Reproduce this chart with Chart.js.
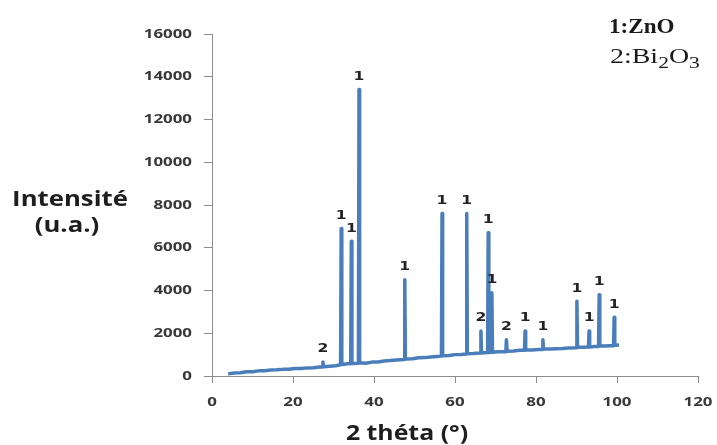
<!DOCTYPE html>
<html>
<head>
<meta charset="utf-8">
<script src="https://cdn.jsdelivr.net/npm/chart.js@4.4.1/dist/chart.umd.min.js"></script>
<style>
  html, body { margin: 0; padding: 0; background: #ffffff; }
  #wrap { width: 717px; height: 445px; position: relative; }
</style>
</head>
<body>
<div id="wrap"><canvas id="xrd" width="717" height="445"></canvas></div>
<script>
// Diffraction pattern: 2θ (degrees) and measured intensity (a.u.)
const theta = [
  4.0, 5.5, 7.0, 8.5, 10.0, 11.5, 13.0, 14.5, 16.0, 17.5, 19.0, 20.5, 22.0, 23.5, 25.0, 26.5,
  27.25, 27.4, 27.55, 29.0, 30.5, 31.75, 31.9, 32.05, 33.5, 34.25, 34.4, 34.55, 36.15, 36.3, 36.45,
  38.0, 39.5, 41.0, 42.5, 44.0, 45.5, 47.45, 47.6, 47.75, 49.5, 51.0, 52.5, 54.0, 55.5, 56.65,
  56.8, 56.95, 58.5, 60.0, 61.5, 62.75, 62.9, 63.05, 64.5, 66.25, 66.4, 66.55, 68.05, 68.2, 68.35,
  68.95, 69.1, 69.25, 70.5, 72.55, 72.7, 72.85, 74.5, 76.0, 77.15, 77.3, 77.45, 79.0, 80.5, 81.55,
  81.7, 81.85, 83.5, 85.0, 86.5, 88.0, 89.95, 90.1, 90.25, 91.5, 92.95, 93.1, 93.25, 94.5, 95.45,
  95.6, 95.75, 97.0, 98.2, 99.15, 99.3, 99.45, 100.5
];
const intensity = [
  100, 140, 150, 200, 200, 240, 250, 280, 290, 310, 320, 350, 350, 380, 390, 420,
  420, 650, 430, 460, 480, 530, 6900, 540, 570, 570, 6300, 590, 600, 13400, 620,
  600, 650, 660, 700, 720, 750, 770, 4500, 790, 810, 850, 860, 890, 910, 930,
  7600, 950, 960, 1000, 1010, 1030, 7600, 1040, 1050, 1080, 2100, 1080, 1100, 6700, 1100,
  1110, 3900, 1110, 1130, 1140, 1700, 1160, 1170, 1200, 1200, 2100, 1220, 1220, 1240, 1240,
  1700, 1260, 1260, 1280, 1290, 1310, 1320, 3500, 1340, 1340, 1360, 2100, 1360, 1380, 1380,
  3800, 1400, 1400, 1420, 1420, 2750, 1440, 1450
];

// Indexed peaks: 1 = ZnO, 2 = Bi2O3
const peakTheta = [27.4, 31.9, 34.4, 36.3, 47.6, 56.8, 62.9, 66.4, 68.2, 69.1, 72.7, 77.3, 81.7, 90.1, 93.1, 95.6, 99.3];
const peakPhase = ['2', '1', '1', '1', '1', '1', '1', '2', '1', '1', '2', '1', '1', '1', '1', '1', '1'];

// Axis ticks
const xTicks = [0, 20, 40, 60, 80, 100, 120];
const yTicks = [0, 2000, 4000, 6000, 8000, 10000, 12000, 14000, 16000];

const points = theta.map((t, i) => ({ x: t, y: intensity[i] }));

const axisGray = '#8c8c8c';

// text drawn with a horizontal stretch factor sx
function wideText(ctx, text, x, y, sx, align) {
  const w = ctx.measureText(text).width * sx;
  let left = x;
  if (align === 'center') left = x - w / 2;
  else if (align === 'right') left = x - w;
  ctx.save();
  ctx.translate(left, y);
  ctx.scale(sx, 1);
  ctx.textAlign = 'left';
  ctx.fillText(text, 0, 0);
  ctx.restore();
  return w;
}

const annotations = {
  id: 'annotations',
  afterDraw(chart) {
    const { ctx, scales } = chart;
    const xs = scales.x, ys = scales.y;
    ctx.save();

    // tick labels
    ctx.fillStyle = '#383838';
    ctx.font = 'bold 12.5px "Open Sans"';
    ctx.textBaseline = 'middle';
    yTicks.forEach(v => wideText(ctx, String(v), 192, ys.getPixelForValue(v), 1.35, 'right'));
    xTicks.forEach(v => wideText(ctx, String(v), xs.getPixelForValue(v), 402, 1.35, 'center'));

    // phase index above each peak
    ctx.fillStyle = '#222222';
    ctx.font = 'bold 13px "DejaVu Sans"';
    peakTheta.forEach((t, i) => {
      const idx = theta.indexOf(t);
      const px = xs.getPixelForValue(t);
      const py = ys.getPixelForValue(intensity[idx]);
      wideText(ctx, peakPhase[i], px, py - 13, 1.2, 'center');
    });

    // axis titles
    ctx.fillStyle = '#1e1e1e';
    ctx.font = 'bold 22px "Open Sans"';
    ctx.textBaseline = 'alphabetic';
    wideText(ctx, 'Intensité', 70, 206, 1.17, 'center');
    wideText(ctx, '(u.a.)', 67, 232, 1.17, 'center');
    wideText(ctx, '2 théta (°)', 407, 440, 1.13, 'center');

    // phase key
    ctx.fillStyle = '#1a1a1a';
    ctx.font = 'bold 22px "Liberation Serif"';
    wideText(ctx, '1:ZnO', 609, 33, 1.05, 'left');
    let x = 610;
    const base = 63;
    const parts = [['2:Bi', 22, 0], ['2', 17, 5], ['O', 22, 0], ['3', 17, 5]];
    parts.forEach(([txt, size, drop]) => {
      ctx.font = size + 'px "Liberation Serif"';
      x += wideText(ctx, txt, x, base + drop, 1.27, 'left');
    });

    ctx.restore();
  }
};

new Chart(document.getElementById('xrd'), {
  type: 'line',
  data: {
    datasets: [{
      data: points,
      borderColor: '#4a7ebb',
      borderWidth: 3.5,
      pointRadius: 0,
      tension: 0,
      borderJoinStyle: 'round',
      fill: false
    }]
  },
  options: {
    responsive: false,
    animation: false,
    events: [],
    layout: { padding: { top: 34, right: 19, left: 0, bottom: 0 } },
    plugins: { legend: { display: false }, tooltip: { enabled: false }, title: { display: false } },
    scales: {
      x: {
        type: 'linear',
        min: xTicks[0],
        max: xTicks[xTicks.length - 1],
        afterBuildTicks(scale) { scale.ticks = xTicks.map(v => ({ value: v })); },
        afterFit(scale) { scale.height = 69; },
        grid: { drawOnChartArea: false, tickLength: 7, color: axisGray },
        border: { color: axisGray, width: 1 },
        ticks: { display: false }
      },
      y: {
        type: 'linear',
        min: yTicks[0],
        max: yTicks[yTicks.length - 1],
        afterBuildTicks(scale) { scale.ticks = yTicks.map(v => ({ value: v })); },
        afterFit(scale) { scale.width = 212; },
        grid: { drawOnChartArea: false, tickLength: 8, color: axisGray },
        border: { color: axisGray, width: 1 },
        ticks: { display: false }
      }
    }
  },
  plugins: [annotations]
});
</script>
</body>
</html>
